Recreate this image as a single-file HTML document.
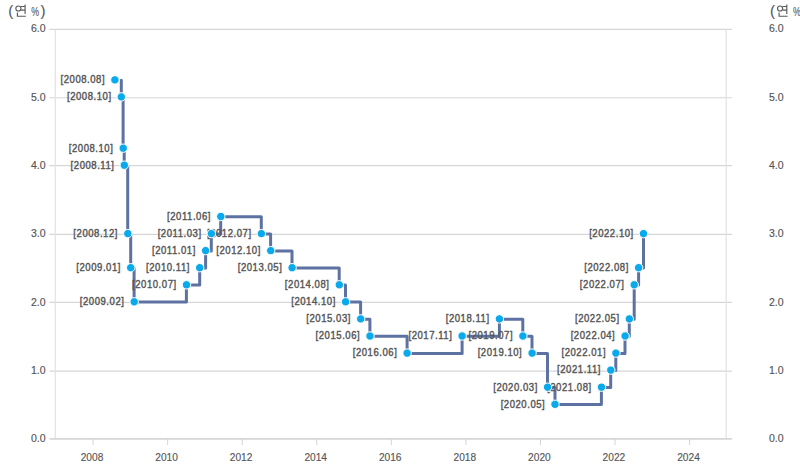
<!DOCTYPE html>
<html><head><meta charset="utf-8"><style>
html,body{margin:0;padding:0;background:#fff;width:800px;height:473px;overflow:hidden}
svg{display:block}
text{font-family:"Liberation Sans",sans-serif;font-size:11px;fill:#555;stroke:#555;stroke-width:0.25px}
</style></head><body>
<svg width="800" height="473" viewBox="0 0 800 473">
<rect width="800" height="473" fill="#fff"/>
<path d="M49.5 371.1H731.8" stroke="#d6d6d6" stroke-width="1.1"/>
<path d="M49.5 302.4H731.8" stroke="#d6d6d6" stroke-width="1.1"/>
<path d="M49.5 234.4H731.8" stroke="#d6d6d6" stroke-width="1.1"/>
<path d="M49.5 165.6H731.8" stroke="#d6d6d6" stroke-width="1.1"/>
<path d="M49.5 97.8H731.8" stroke="#d6d6d6" stroke-width="1.1"/>
<path d="M49.5 29.4H731.8" stroke="#d6d6d6" stroke-width="1.1"/>
<path d="M55.3 29.4V438" stroke="#e2e2e2" stroke-width="1.2"/><path d="M726.2 29.4V438" stroke="#e2e2e2" stroke-width="1.2"/><path d="M49.5 438.9H731.8" stroke="#d6d6d6" stroke-width="1.7"/><path d="M93.1 439V445" stroke="#d5d5d5" stroke-width="1"/><path d="M167.66 439V445" stroke="#d5d5d5" stroke-width="1"/><path d="M242.22 439V445" stroke="#d5d5d5" stroke-width="1"/><path d="M316.79 439V445" stroke="#d5d5d5" stroke-width="1"/><path d="M391.35 439V445" stroke="#d5d5d5" stroke-width="1"/><path d="M465.91 439V445" stroke="#d5d5d5" stroke-width="1"/><path d="M540.48 439V445" stroke="#d5d5d5" stroke-width="1"/><path d="M615.04 439V445" stroke="#d5d5d5" stroke-width="1"/><path d="M689.6 439V445" stroke="#d5d5d5" stroke-width="1"/>
<g><text x="92.0" y="460.9" style="font-size:10.8px;stroke-width:0.15px" text-anchor="middle" textLength="22.6" lengthAdjust="spacingAndGlyphs">2008</text><text x="166.6" y="460.9" style="font-size:10.8px;stroke-width:0.15px" text-anchor="middle" textLength="22.6" lengthAdjust="spacingAndGlyphs">2010</text><text x="241.1" y="460.9" style="font-size:10.8px;stroke-width:0.15px" text-anchor="middle" textLength="22.6" lengthAdjust="spacingAndGlyphs">2012</text><text x="315.7" y="460.9" style="font-size:10.8px;stroke-width:0.15px" text-anchor="middle" textLength="22.6" lengthAdjust="spacingAndGlyphs">2014</text><text x="390.2" y="460.9" style="font-size:10.8px;stroke-width:0.15px" text-anchor="middle" textLength="22.6" lengthAdjust="spacingAndGlyphs">2016</text><text x="464.8" y="460.9" style="font-size:10.8px;stroke-width:0.15px" text-anchor="middle" textLength="22.6" lengthAdjust="spacingAndGlyphs">2018</text><text x="539.4" y="460.9" style="font-size:10.8px;stroke-width:0.15px" text-anchor="middle" textLength="22.6" lengthAdjust="spacingAndGlyphs">2020</text><text x="613.9" y="460.9" style="font-size:10.8px;stroke-width:0.15px" text-anchor="middle" textLength="22.6" lengthAdjust="spacingAndGlyphs">2022</text><text x="688.5" y="460.9" style="font-size:10.8px;stroke-width:0.15px" text-anchor="middle" textLength="22.6" lengthAdjust="spacingAndGlyphs">2024</text></g>
<g><text x="45.5" y="442.2" style="font-size:10.6px;stroke-width:0.15px" text-anchor="end" textLength="14.6" lengthAdjust="spacingAndGlyphs">0.0</text><text x="769" y="442.2" style="font-size:10.6px;stroke-width:0.15px" text-anchor="start" textLength="14.6" lengthAdjust="spacingAndGlyphs">0.0</text><text x="45.5" y="373.9" style="font-size:10.6px;stroke-width:0.15px" text-anchor="end" textLength="14.6" lengthAdjust="spacingAndGlyphs">1.0</text><text x="769" y="373.9" style="font-size:10.6px;stroke-width:0.15px" text-anchor="start" textLength="14.6" lengthAdjust="spacingAndGlyphs">1.0</text><text x="45.5" y="305.6" style="font-size:10.6px;stroke-width:0.15px" text-anchor="end" textLength="14.6" lengthAdjust="spacingAndGlyphs">2.0</text><text x="769" y="305.6" style="font-size:10.6px;stroke-width:0.15px" text-anchor="start" textLength="14.6" lengthAdjust="spacingAndGlyphs">2.0</text><text x="45.5" y="237.3" style="font-size:10.6px;stroke-width:0.15px" text-anchor="end" textLength="14.6" lengthAdjust="spacingAndGlyphs">3.0</text><text x="769" y="237.3" style="font-size:10.6px;stroke-width:0.15px" text-anchor="start" textLength="14.6" lengthAdjust="spacingAndGlyphs">3.0</text><text x="45.5" y="169.0" style="font-size:10.6px;stroke-width:0.15px" text-anchor="end" textLength="14.6" lengthAdjust="spacingAndGlyphs">4.0</text><text x="769" y="169.0" style="font-size:10.6px;stroke-width:0.15px" text-anchor="start" textLength="14.6" lengthAdjust="spacingAndGlyphs">4.0</text><text x="45.5" y="100.7" style="font-size:10.6px;stroke-width:0.15px" text-anchor="end" textLength="14.6" lengthAdjust="spacingAndGlyphs">5.0</text><text x="769" y="100.7" style="font-size:10.6px;stroke-width:0.15px" text-anchor="start" textLength="14.6" lengthAdjust="spacingAndGlyphs">5.0</text><text x="45.5" y="32.4" style="font-size:10.6px;stroke-width:0.15px" text-anchor="end" textLength="14.6" lengthAdjust="spacingAndGlyphs">6.0</text><text x="769" y="32.4" style="font-size:10.6px;stroke-width:0.15px" text-anchor="start" textLength="14.6" lengthAdjust="spacingAndGlyphs">6.0</text></g>
<text x="8.2" y="16.4" style="font-size:15px;stroke-width:0.1px">(</text><g transform="translate(0.0,0)" stroke="#5a5a5a" fill="none" stroke-width="1.15"><circle cx="18.4" cy="8.5" r="2.55"/><path d="M25.1 4.4V13.9M21 6.5H24.6M21 10.1H24.6M17.4 12.5V16.2H25.9"/></g><text x="31.2" y="16.2" style="font-size:12px;stroke-width:0.1px" textLength="7.8" lengthAdjust="spacingAndGlyphs">%</text><text x="40.6" y="16.4" style="font-size:15px;stroke-width:0.1px">)</text><text x="769.9" y="16.4" style="font-size:15px;stroke-width:0.1px">(</text><g transform="translate(761.7,0)" stroke="#5a5a5a" fill="none" stroke-width="1.15"><circle cx="18.4" cy="8.5" r="2.55"/><path d="M25.1 4.4V13.9M21 6.5H24.6M21 10.1H24.6M17.4 12.5V16.2H25.9"/></g><text x="792.9" y="16.2" style="font-size:12px;stroke-width:0.1px" textLength="7.8" lengthAdjust="spacingAndGlyphs">%</text><text x="802.3" y="16.4" style="font-size:15px;stroke-width:0.1px">)</text>
<path d="M121.3 80.2H121.3V97.2H123.1V148.5H124.2V165.6H127.7V233.9H130.7V268.0H134.1V302.1H186.4V285.1H199.7V268.0H205.6V250.9H211.3V233.9H220.7V216.8H261.3V233.9H270.6V250.9H292.0V268.0H339.2V285.1H345.5V302.1H360.6V319.2H369.9V336.3H407.1V353.4H462.1V336.3H499.4V319.2H522.8V336.3H532.0V353.4H547.5V387.5H555.0V404.6H601.4V387.5H610.7V370.4H615.8V353.4H625.0V336.3H629.3V319.2H634.2V285.1H638.6V268.0H643.5V233.9" fill="none" stroke="#5e72a2" stroke-width="3" stroke-linejoin="round" stroke-linecap="round"/>
<g><text transform="translate(105.14,83.2) scale(0.9,1)" style="font-size:10.6px;stroke-width:0.4px;letter-spacing:0.6px" text-anchor="end">[2008.08]</text><text transform="translate(111.57,100.2) scale(0.9,1)" style="font-size:10.6px;stroke-width:0.4px;letter-spacing:0.6px" text-anchor="end">[2008.10]</text><text transform="translate(113.41,151.5) scale(0.9,1)" style="font-size:10.6px;stroke-width:0.4px;letter-spacing:0.6px" text-anchor="end">[2008.10]</text><text transform="translate(114.53,168.6) scale(0.9,1)" style="font-size:10.6px;stroke-width:0.4px;letter-spacing:0.6px" text-anchor="end">[2008.11]</text><text transform="translate(118.00,236.9) scale(0.9,1)" style="font-size:10.6px;stroke-width:0.4px;letter-spacing:0.6px" text-anchor="end">[2008.12]</text><text transform="translate(120.96,271.0) scale(0.9,1)" style="font-size:10.6px;stroke-width:0.4px;letter-spacing:0.6px" text-anchor="end">[2009.01]</text><text transform="translate(124.43,305.1) scale(0.9,1)" style="font-size:10.6px;stroke-width:0.4px;letter-spacing:0.6px" text-anchor="end">[2009.02]</text><text transform="translate(176.69,288.1) scale(0.9,1)" style="font-size:10.6px;stroke-width:0.4px;letter-spacing:0.6px" text-anchor="end">[2010.07]</text><text transform="translate(189.96,271.0) scale(0.9,1)" style="font-size:10.6px;stroke-width:0.4px;letter-spacing:0.6px" text-anchor="end">[2010.11]</text><text transform="translate(195.88,253.9) scale(0.9,1)" style="font-size:10.6px;stroke-width:0.4px;letter-spacing:0.6px" text-anchor="end">[2011.01]</text><text transform="translate(201.60,236.9) scale(0.9,1)" style="font-size:10.6px;stroke-width:0.4px;letter-spacing:0.6px" text-anchor="end">[2011.03]</text><text transform="translate(210.99,219.8) scale(0.9,1)" style="font-size:10.6px;stroke-width:0.4px;letter-spacing:0.6px" text-anchor="end">[2011.06]</text><text transform="translate(251.61,236.9) scale(0.9,1)" style="font-size:10.6px;stroke-width:0.4px;letter-spacing:0.6px" text-anchor="end">[2012.07]</text><text transform="translate(260.90,253.9) scale(0.9,1)" style="font-size:10.6px;stroke-width:0.4px;letter-spacing:0.6px" text-anchor="end">[2012.10]</text><text transform="translate(282.34,271.0) scale(0.9,1)" style="font-size:10.6px;stroke-width:0.4px;letter-spacing:0.6px" text-anchor="end">[2013.05]</text><text transform="translate(329.49,288.1) scale(0.9,1)" style="font-size:10.6px;stroke-width:0.4px;letter-spacing:0.6px" text-anchor="end">[2014.08]</text><text transform="translate(335.82,305.1) scale(0.9,1)" style="font-size:10.6px;stroke-width:0.4px;letter-spacing:0.6px" text-anchor="end">[2014.10]</text><text transform="translate(350.93,322.2) scale(0.9,1)" style="font-size:10.6px;stroke-width:0.4px;letter-spacing:0.6px" text-anchor="end">[2015.03]</text><text transform="translate(360.22,339.3) scale(0.9,1)" style="font-size:10.6px;stroke-width:0.4px;letter-spacing:0.6px" text-anchor="end">[2015.06]</text><text transform="translate(397.37,356.4) scale(0.9,1)" style="font-size:10.6px;stroke-width:0.4px;letter-spacing:0.6px" text-anchor="end">[2016.06]</text><text transform="translate(452.39,339.3) scale(0.9,1)" style="font-size:10.6px;stroke-width:0.4px;letter-spacing:0.6px" text-anchor="end">[2017.11]</text><text transform="translate(489.64,322.2) scale(0.9,1)" style="font-size:10.6px;stroke-width:0.4px;letter-spacing:0.6px" text-anchor="end">[2018.11]</text><text transform="translate(513.12,339.3) scale(0.9,1)" style="font-size:10.6px;stroke-width:0.4px;letter-spacing:0.6px" text-anchor="end">[2019.07]</text><text transform="translate(522.31,356.4) scale(0.9,1)" style="font-size:10.6px;stroke-width:0.4px;letter-spacing:0.6px" text-anchor="end">[2019.10]</text><text transform="translate(537.82,390.5) scale(0.9,1)" style="font-size:10.6px;stroke-width:0.4px;letter-spacing:0.6px" text-anchor="end">[2020.03]</text><text transform="translate(545.27,407.6) scale(0.9,1)" style="font-size:10.6px;stroke-width:0.4px;letter-spacing:0.6px" text-anchor="end">[2020.05]</text><text transform="translate(591.71,390.5) scale(0.9,1)" style="font-size:10.6px;stroke-width:0.4px;letter-spacing:0.6px" text-anchor="end">[2021.08]</text><text transform="translate(601.00,373.4) scale(0.9,1)" style="font-size:10.6px;stroke-width:0.4px;letter-spacing:0.6px" text-anchor="end">[2021.11]</text><text transform="translate(606.11,356.4) scale(0.9,1)" style="font-size:10.6px;stroke-width:0.4px;letter-spacing:0.6px" text-anchor="end">[2022.01]</text><text transform="translate(615.29,339.3) scale(0.9,1)" style="font-size:10.6px;stroke-width:0.4px;letter-spacing:0.6px" text-anchor="end">[2022.04]</text><text transform="translate(619.58,322.2) scale(0.9,1)" style="font-size:10.6px;stroke-width:0.4px;letter-spacing:0.6px" text-anchor="end">[2022.05]</text><text transform="translate(624.48,288.1) scale(0.9,1)" style="font-size:10.6px;stroke-width:0.4px;letter-spacing:0.6px" text-anchor="end">[2022.07]</text><text transform="translate(628.87,271.0) scale(0.9,1)" style="font-size:10.6px;stroke-width:0.4px;letter-spacing:0.6px" text-anchor="end">[2022.08]</text><text transform="translate(633.77,236.9) scale(0.9,1)" style="font-size:10.6px;stroke-width:0.4px;letter-spacing:0.6px" text-anchor="end">[2022.10]</text></g>
<g><circle cx="114.9" cy="79.9" r="4.2" fill="#08aaec" stroke="#fff" stroke-width="1"/><circle cx="121.3" cy="96.9" r="4.2" fill="#08aaec" stroke="#fff" stroke-width="1"/><circle cx="123.2" cy="148.2" r="4.2" fill="#08aaec" stroke="#fff" stroke-width="1"/><circle cx="124.3" cy="165.2" r="4.2" fill="#08aaec" stroke="#fff" stroke-width="1"/><circle cx="127.8" cy="233.6" r="4.2" fill="#08aaec" stroke="#fff" stroke-width="1"/><circle cx="130.7" cy="267.7" r="4.2" fill="#08aaec" stroke="#fff" stroke-width="1"/><circle cx="134.2" cy="301.8" r="4.2" fill="#08aaec" stroke="#fff" stroke-width="1"/><circle cx="186.5" cy="284.8" r="4.2" fill="#08aaec" stroke="#fff" stroke-width="1"/><circle cx="199.7" cy="267.7" r="4.2" fill="#08aaec" stroke="#fff" stroke-width="1"/><circle cx="205.6" cy="250.6" r="4.2" fill="#08aaec" stroke="#fff" stroke-width="1"/><circle cx="211.4" cy="233.6" r="4.2" fill="#08aaec" stroke="#fff" stroke-width="1"/><circle cx="220.8" cy="216.5" r="4.2" fill="#08aaec" stroke="#fff" stroke-width="1"/><circle cx="261.4" cy="233.6" r="4.2" fill="#08aaec" stroke="#fff" stroke-width="1"/><circle cx="270.7" cy="250.6" r="4.2" fill="#08aaec" stroke="#fff" stroke-width="1"/><circle cx="292.1" cy="267.7" r="4.2" fill="#08aaec" stroke="#fff" stroke-width="1"/><circle cx="339.3" cy="284.8" r="4.2" fill="#08aaec" stroke="#fff" stroke-width="1"/><circle cx="345.6" cy="301.8" r="4.2" fill="#08aaec" stroke="#fff" stroke-width="1"/><circle cx="360.7" cy="318.9" r="4.2" fill="#08aaec" stroke="#fff" stroke-width="1"/><circle cx="370.0" cy="336.0" r="4.2" fill="#08aaec" stroke="#fff" stroke-width="1"/><circle cx="407.1" cy="353.1" r="4.2" fill="#08aaec" stroke="#fff" stroke-width="1"/><circle cx="462.1" cy="336.0" r="4.2" fill="#08aaec" stroke="#fff" stroke-width="1"/><circle cx="499.4" cy="318.9" r="4.2" fill="#08aaec" stroke="#fff" stroke-width="1"/><circle cx="522.9" cy="336.0" r="4.2" fill="#08aaec" stroke="#fff" stroke-width="1"/><circle cx="532.1" cy="353.1" r="4.2" fill="#08aaec" stroke="#fff" stroke-width="1"/><circle cx="547.6" cy="387.2" r="4.2" fill="#08aaec" stroke="#fff" stroke-width="1"/><circle cx="555.0" cy="404.3" r="4.2" fill="#08aaec" stroke="#fff" stroke-width="1"/><circle cx="601.5" cy="387.2" r="4.2" fill="#08aaec" stroke="#fff" stroke-width="1"/><circle cx="610.8" cy="370.1" r="4.2" fill="#08aaec" stroke="#fff" stroke-width="1"/><circle cx="615.9" cy="353.1" r="4.2" fill="#08aaec" stroke="#fff" stroke-width="1"/><circle cx="625.1" cy="336.0" r="4.2" fill="#08aaec" stroke="#fff" stroke-width="1"/><circle cx="629.3" cy="318.9" r="4.2" fill="#08aaec" stroke="#fff" stroke-width="1"/><circle cx="634.2" cy="284.8" r="4.2" fill="#08aaec" stroke="#fff" stroke-width="1"/><circle cx="638.6" cy="267.7" r="4.2" fill="#08aaec" stroke="#fff" stroke-width="1"/><circle cx="643.5" cy="233.6" r="4.2" fill="#08aaec" stroke="#fff" stroke-width="1"/></g>
</svg>
</body></html>
